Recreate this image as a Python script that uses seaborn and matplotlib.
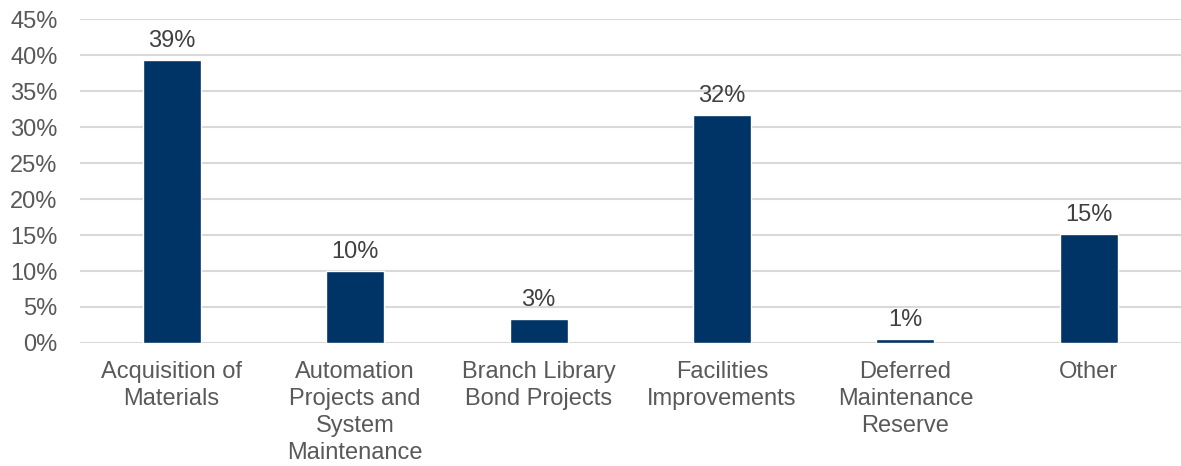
import seaborn as sns
import matplotlib.pyplot as plt
import pandas as pd
from matplotlib.ticker import FuncFormatter

categories = ['Acquisition of\nMaterials', 'Automation\nProjects and\nSystem\nMaintenance',
              'Branch Library\nBond Projects', 'Facilities\nImprovements',
              'Deferred\nMaintenance\nReserve', 'Other']
values = [39.3, 10.0, 3.4, 31.7, 0.55, 15.1]
labels = ['39%', '10%', '3%', '32%', '1%', '15%']

df = pd.DataFrame({'Category': categories, 'Share': values})

sns.set_style('white')
plt.rcParams['font.family'] = ['Liberation Sans', 'DejaVu Sans']

fig = plt.figure(figsize=(11.81, 4.66), dpi=100)
ax = fig.add_axes([0.0677, 0.264, 0.932, 0.695])

sns.barplot(data=df, x='Category', y='Share', color='#003366', width=0.316,
            saturation=1, ax=ax, zorder=3)

for i, (v, t) in enumerate(zip(values, labels)):
    ax.text(i, v + 1.1, t, ha='center', va='bottom', fontsize=17, color='#404040')

ax.set_ylim(0, 45)
ax.set_xlim(-0.5, 5.5)
ax.set_yticks(range(0, 50, 5))
ax.yaxis.set_major_formatter(FuncFormatter(lambda y, p: f'{int(y)}%'))
ax.grid(axis='y', color='#d9d9d9', linewidth=1.5, zorder=0)
ax.set_axisbelow(True)
for s in ax.spines.values():
    s.set_visible(False)
ax.tick_params(axis='both', length=0, labelsize=17, colors='#595959')
ax.tick_params(axis='x', pad=13)
ax.tick_params(axis='y', pad=16)
ax.set_xlabel('')
ax.set_ylabel('')
for lab in ax.get_xticklabels():
    lab.set_linespacing(1.3)

fig.savefig('out.png', dpi=100)
